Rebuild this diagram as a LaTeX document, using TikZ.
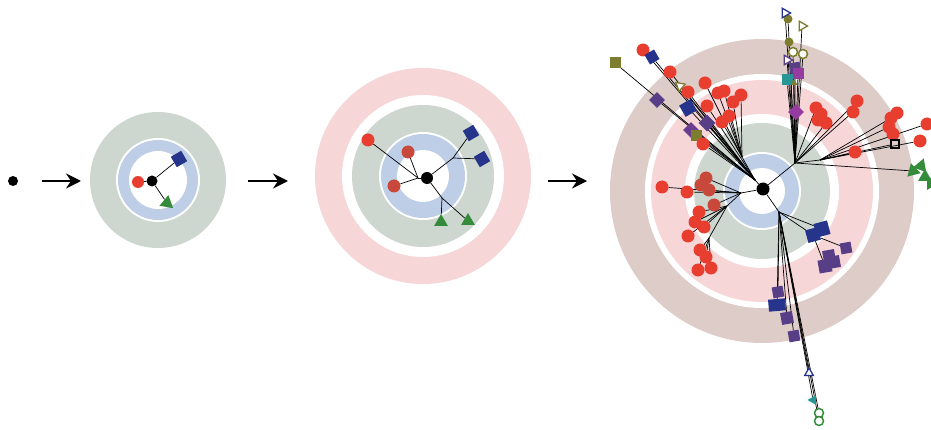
\documentclass[tikz,border=0pt]{standalone}
\usetikzlibrary{arrows.meta,shapes.geometric}
\definecolor{ringgray}{RGB}{205,214,207}
\definecolor{ringblue}{RGB}{190,206,230}
\definecolor{ringpink}{RGB}{247,214,216}
\definecolor{ringbrown}{RGB}{221,204,200}
\definecolor{cellred}{RGB}{231,62,48}
\definecolor{celldred}{RGB}{200,72,60}
\definecolor{cellnavy}{RGB}{38,52,140}
\definecolor{cellpurple}{RGB}{88,62,135}
\definecolor{cellgreen}{RGB}{52,140,58}
\definecolor{cellolive}{RGB}{125,125,48}
\definecolor{cellmag}{RGB}{150,60,160}
\definecolor{cellteal}{RGB}{40,150,150}
\pgfdeclarelayer{rings}
\pgfdeclarelayer{links}
\pgfsetlayers{rings,links,main}

\begin{document}
\begin{tikzpicture}[x=1pt,y=-1pt,
  hub/.style={circle,fill=black,inner sep=0pt,minimum size=11pt},
  rc/.style={circle,fill=cellred,inner sep=0pt,minimum size=13pt},
  drc/.style={rc,fill=celldred},
  sq/.style={rectangle,inner sep=0pt,minimum size=11pt},
  nsq/.style={sq,fill=cellnavy,rotate=30},
  psq/.style={sq,fill=cellpurple,rotate=10},
  osq/.style={sq,fill=cellolive},
  msq/.style={sq,fill=cellmag,rotate=45},
  tsq/.style={sq,fill=cellteal},
  bsq/.style={sq,draw=black,line width=1.5pt,minimum size=8pt},
  tri/.style={regular polygon,regular polygon sides=3,inner sep=0pt,minimum size=16pt},
  gtri/.style={tri,fill=cellgreen},
  otri/.style={tri,draw=#1,fill=white,line width=1.3pt,minimum size=11pt,rotate=-90},
  otri/.default=cellolive,
  ocirc/.style={circle,draw=#1,fill=white,line width=1.5pt,inner sep=0pt,minimum size=9pt},
  ocirc/.default=cellolive,
  link/.style={line width=0.7pt},
  stagearrow/.style={line width=2pt,-{Stealth[length=15pt,width=15pt,inset=5pt]}}
  ]
  \useasboundingbox (0,0) rectangle (931,430);

  % rings
  \begin{pgfonlayer}{rings}
    \fill[ringgray] (158,180) circle (68pt);
    \fill[white] (158,180) circle (42pt);
    \fill[ringblue] (158,180) circle (40pt);
    \fill[white] (158,180) circle (29pt);

    \fill[ringpink] (423,176) circle (108pt);
    \fill[white] (423,176) circle (81pt);
    \fill[ringgray] (423,176) circle (71pt);
    \fill[white] (423,176) circle (44pt);
    \fill[ringblue] (423,176) circle (42pt);
    \fill[white] (423,176) circle (26pt);

    \fill[ringbrown] (762,191) circle (152pt);
    \fill[white] (762,191) circle (117pt);
    \fill[ringpink] (762,191) circle (111pt);
    \fill[white] (762,191) circle (77pt);
    \fill[ringgray] (762,191) circle (68pt);
    \fill[white] (762,191) circle (39pt);
    \fill[ringblue] (762,191) circle (37pt);
    \fill[white] (762,191) circle (23pt);
  \end{pgfonlayer}

  % stage 0
  \node[hub,minimum size=10pt] (c0) at (13,181) {};
  \coordinate (a1s) at (42,181);
  \coordinate (a1e) at (81,181);
  \coordinate (a2s) at (248,181);
  \coordinate (a2e) at (288,181);
  \coordinate (a3s) at (548,181);
  \coordinate (a3e) at (587,181);
  \draw[stagearrow] (a1s) -- (a1e);
  \draw[stagearrow] (a2s) -- (a2e);
  \draw[stagearrow] (a3s) -- (a3e);

  % stage 1
  \node[hub,minimum size=11pt] (c1) at (152,181) {};
  \node[rc,minimum size=12pt] (r1) at (138,182) {};
  \node[nsq,minimum size=12pt] (b1) at (179,159) {};
  \node[gtri,rotate=-10] (g1) at (167,203) {};
  \begin{pgfonlayer}{links}
    \draw[link] (c1) edge (r1) (c1) edge (b1) (c1) edge (g1);
  \end{pgfonlayer}

  % stage 2
  \node[hub,minimum size=12pt] (c2) at (427,178) {};
  \coordinate (j2r) at (418,178);
  \coordinate (j2b) at (453,158);
  \coordinate (j2g) at (442,198);
  \node[rc] (r2a) at (368,140) {};
  \node[drc] (r2b) at (408,152) {};
  \node[drc] (r2c) at (394,186) {};
  \node[nsq,minimum size=12pt] (b2a) at (471,133) {};
  \node[nsq,minimum size=12pt] (b2b) at (482,159) {};
  \node[gtri] (g2a) at (441,222) {};
  \node[gtri] (g2b) at (468,221) {};
  \begin{pgfonlayer}{links}
    \draw[link] (c2) edge (j2r) (j2r) edge (r2a) (j2r) edge (r2b) (j2r) edge (r2c);
    \draw[link] (c2) edge (j2b) (j2b) edge (b2a) (j2b) edge (b2b);
    \draw[link] (c2) edge (j2g) (j2g) edge (g2a) (j2g) edge (g2b);
  \end{pgfonlayer}

  % stage 3
  \node[hub,minimum size=13pt] (c3) at (763,189) {};
  \coordinate (ja) at (755,180);
  \coordinate (jb) at (742,157);
  \coordinate (jl) at (741,193);
  \coordinate (jl2) at (727,206);
  \coordinate (jl3) at (709,238);
  \coordinate (jt) at (795,163);
  \coordinate (jr) at (820,160);
  \coordinate (jd) at (779,212);

  % upper left
  \node[osq] (osqA) at (615,63) {};
  \node[psq,rotate=35] (pdA) at (657,100) {};
  \node[msq,fill=cellpurple!70!cellmag] (psqA) at (691,130) {};
  \node[osq] (osqB) at (696,136) {};
  \node[rc] (rcA) at (703,144) {};
  \node[rc] (rcB) at (643,50) {};
  \node[nsq] (ndB) at (652,57) {};
  \node[rc] (rcC) at (670,72) {};
  \node[otri,rotate=20] (otB) at (680,86) {};
  \node[rc] (rcD) at (688,92) {};
  \node[nsq,minimum size=13pt] (ndC) at (688,108) {};
  \node[psq,rotate=35,minimum size=12pt] (pdC) at (707,123) {};
  \node[rc] (rcE) at (705,83) {};
  \node[rc] (rcF) at (718,93) {};
  \node[rc] (rcG) at (724,91) {};
  \node[rc] (rcH) at (733,102) {};
  \node[rc] (rcI) at (741,95) {};
  \node[rc] (rcJ) at (707,106) {};
  \node[rc] (rcK) at (722,122) {};
  \node[rc] (rcL) at (729,116) {};

  % left
  \node[rc] (rcM) at (662,187) {};
  \node[rc] (rcN) at (687,192) {};
  \node[drc] (rcO) at (706,178) {};
  \node[drc] (rcO2) at (701,185) {};
  \node[drc] (rcP) at (709,190) {};
  \node[drc] (rcQ) at (714,205) {};
  \node[rc] (rcR) at (699,212) {};
  \node[rc] (rcS) at (695,222) {};
  \node[rc] (rcT) at (704,227) {};
  \node[rc] (rcU) at (688,236) {};
  \node[rc] (rcV) at (700,250) {};
  \node[rc] (rcW) at (706,257) {};
  \node[rc] (rcX) at (698,270) {};
  \node[rc] (rcY) at (711,268) {};

  % top
  \node[msq] (mdT) at (796,112) {};
  \node[tsq] (tsqT) at (787,80) {};
  \node[tri,fill=cellolive,minimum size=8pt] (oyT) at (794,83) {};
  \node[psq] (psT) at (795,68) {};
  \node[msq,rotate=-45] (mgT) at (798,74) {};
  \node[otri=cellpurple] (ptT) at (787,60) {};
  \node[ocirc] (ocT1) at (793,52) {};
  \node[ocirc] (ocT2) at (803,54) {};
  \node[circle,fill=cellolive,inner sep=0pt,minimum size=9pt] (ofT1) at (789,42) {};
  \node[otri] (otT) at (802,26) {};
  \node[circle,fill=cellolive,inner sep=0pt,minimum size=9pt] (ofT2) at (788,19) {};
  \node[otri=cellnavy] (ntT) at (785,13) {};
  \node[rc] (rcT1) at (816,108) {};
  \node[rc] (rcT2) at (821,114) {};
  \node[rc] (rcT3) at (826,123) {};
  \node[rc] (rcT4) at (818,120) {};
  \node[rc] (rcT5) at (857,101) {};
  \node[rc] (rcT6) at (853,112) {};

  % right
  \node[rc] (rcR1) at (855,152) {};
  \node[rc] (rcR2) at (891,118) {};
  \node[rc] (rcR3) at (897,113) {};
  \node[rc] (rcR4) at (889,127) {};
  \node[rc] (rcR5) at (893,134) {};
  \node[bsq] (bsqR) at (895,144) {};
  \node[rc] (rcR6) at (920,141) {};
  \node[rc] (rcR7) at (927,124) {};
  \node[gtri,rotate=15] (gC1) at (913,171) {};
  \node[gtri,rotate=-20] (gC2) at (921,166) {};
  \node[gtri] (gC3) at (925,177) {};
  \node[gtri,rotate=30] (gC4) at (931,183) {};

  % bottom right
  \node[nsq,rotate=-15,minimum size=14pt] (nsqA) at (822,229) {};
  \node[nsq,rotate=-15,minimum size=13pt] (nsqB) at (813,235) {};
  \node[psq] (psqD1) at (846,248) {};
  \node[psq,minimum size=12pt] (psqD2) at (829,256) {};
  \node[psq,minimum size=13pt] (psqD3) at (825,266) {};
  \node[psq,minimum size=12pt] (psqD4) at (834,262) {};
  \node[psq] (psqE1) at (778,292) {};
  \node[sq,fill=cellnavy,minimum width=17pt,minimum height=12pt,rotate=5] (nsqE2) at (777,305) {};
  \node[psq,minimum size=12pt] (psqE3) at (787,318) {};
  \node[psq] (psqE4) at (794,336) {};
  \node[otri=cellnavy,rotate=90,minimum size=10pt] (ntE5) at (809,373) {};
  \node[tri,fill=cellteal,rotate=90,minimum size=11pt] (ttE6) at (813,400) {};
  \node[ocirc=cellgreen] (gcE7) at (819,413) {};
  \node[ocirc=cellgreen] (gcE8) at (819,421) {};

  \begin{pgfonlayer}{links}
    \draw[link] (c3) edge (ja) (c3) edge (jl) (c3) edge (jt) (c3) edge (jd);
    \draw[link] (ja) edge (osqA) (ja) edge (pdA) (ja) edge (psqA) (ja) edge (osqB)
      (ja) edge (rcA) (ja) edge (rcB) (ja) edge (ndB) (ja) edge (rcC) (ja) edge (otB)
      (ja) edge (rcD) (ja) edge (ndC) (ja) edge (pdC) (ja) edge (rcJ) (ja) edge (jb);
    \draw[link] (jb) edge (rcE) (jb) edge (rcF) (jb) edge (rcG) (jb) edge (rcH)
      (jb) edge (rcI) (jb) edge (rcK) (jb) edge (rcL);
    \draw[link] (jl) edge (rcM) (jl) edge (rcN) (jl) edge (rcO) (jl) edge (rcP)
      (jl) edge (rcQ) (jl) edge (jl2);
    \draw[link] (jl2) edge (rcR) (jl2) edge (rcS) (jl2) edge (rcT) (jl2) edge (rcU)
      (jl2) edge (jl3);
    \draw[link] (jl3) edge (rcV) (jl3) edge (rcW) (jl3) edge (rcX) (jl3) edge (rcY);
    \draw[link] (jt) edge (mdT) (jt) edge (tsqT) (jt) edge (oyT) (jt) edge (psT)
      (jt) edge (mgT) (jt) edge (ptT) (jt) edge (ocT1) (jt) edge (ocT2) (jt) edge (ofT1)
      (jt) edge (otT) (jt) edge (ofT2) (jt) edge (ntT);
    \draw[link] (jt) edge (rcT1) (jt) edge (rcT3) (jt) edge (rcT6) (jt) edge (rcT5)
      (jt) edge (jr) (jt) edge (gC1);
    \draw[link] (jr) edge (rcR1) (jr) edge (rcR2) (jr) edge (rcR4) (jr) edge (bsqR)
      (jr) edge (rcR6) (jr) edge (rcR7);
    \draw[link] (jd) edge (nsqA) (jd) edge (nsqB) (nsqB) edge (psqD1) (nsqB) edge (psqD3);
    \draw[link] (jd) edge (psqE1) (jd) edge (nsqE2) (jd) edge (psqE3) (jd) edge (psqE4)
      (jd) edge (ntE5) (jd) edge (ttE6) (jd) edge (gcE7) (jd) edge (gcE8);
  \end{pgfonlayer}
\end{tikzpicture}
\end{document}
